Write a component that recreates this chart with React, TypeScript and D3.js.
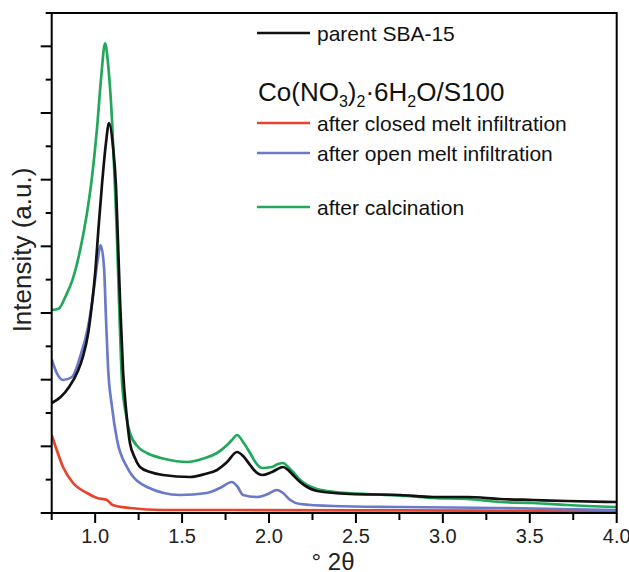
import React from "react";
import * as d3 from "d3";

// ---- data (x: ° 2θ, y: intensity in arbitrary units) ----
const calcinationX = [0.75, 0.79, 0.83, 0.87, 0.91, 0.95, 0.98, 1.01, 1.035, 1.057, 1.074, 1.097, 1.114, 1.126, 1.137, 1.155, 1.178, 1.2, 1.247, 1.298, 1.402, 1.528, 1.632, 1.701, 1.759, 1.787, 1.816, 1.851, 1.891, 1.925, 1.96, 2.017, 2.052, 2.081, 2.11, 2.138, 2.179, 2.219, 2.277, 2.38, 2.564, 2.794, 2.944, 3.139, 3.329, 3.519, 3.714, 3.996];
const calcinationY = [6.09, 6.13, 6.5, 7.0, 7.8, 8.9, 10.0, 11.5, 13.1, 14.09, 13.49, 11.78, 9.77, 8.18, 6.38, 3.9, 2.94, 2.4, 1.98, 1.8, 1.62, 1.53, 1.65, 1.8, 2.04, 2.19, 2.34, 2.13, 1.8, 1.5, 1.35, 1.38, 1.47, 1.5, 1.38, 1.23, 0.99, 0.84, 0.72, 0.63, 0.57, 0.51, 0.45, 0.42, 0.33, 0.3, 0.24, 0.18];

const parentX = [0.75, 0.8, 0.85, 0.9, 0.93, 0.96, 0.98, 1.0, 1.02, 1.04, 1.06, 1.08, 1.103, 1.12, 1.131, 1.143, 1.16, 1.178, 1.2, 1.229, 1.258, 1.316, 1.39, 1.546, 1.632, 1.701, 1.759, 1.816, 1.851, 1.891, 1.925, 1.96, 2.017, 2.081, 2.11, 2.138, 2.179, 2.219, 2.277, 2.466, 2.754, 2.944, 3.139, 3.329, 3.519, 3.714, 3.996];
const parentY = [3.3, 3.47, 3.78, 4.25, 4.7, 5.4, 6.2, 7.2, 8.6, 9.9, 11.0, 11.7, 10.97, 9.77, 8.18, 6.38, 4.29, 3.09, 2.1, 1.65, 1.38, 1.23, 1.14, 1.08, 1.17, 1.29, 1.53, 1.83, 1.71, 1.44, 1.23, 1.14, 1.23, 1.38, 1.29, 1.14, 0.93, 0.78, 0.66, 0.57, 0.54, 0.48, 0.48, 0.42, 0.39, 0.36, 0.33];

const openX = [0.75, 0.779, 0.815, 0.867, 0.913, 0.959, 0.99, 1.012, 1.032, 1.051, 1.062, 1.074, 1.097, 1.126, 1.183, 1.298, 1.488, 1.643, 1.718, 1.787, 1.816, 1.851, 1.931, 1.994, 2.046, 2.081, 2.122, 2.179, 2.37, 2.755, 3.329, 3.996];
const openY = [4.62, 4.2, 3.99, 4.08, 4.68, 5.58, 6.6, 7.5, 8.03, 7.37, 5.88, 4.38, 3.18, 2.19, 1.38, 0.78, 0.54, 0.6, 0.75, 0.93, 0.81, 0.54, 0.48, 0.57, 0.69, 0.6, 0.39, 0.27, 0.21, 0.18, 0.15, 0.09];

const closedX = [0.75, 0.779, 0.815, 0.873, 0.953, 1.011, 1.068, 1.1, 1.2, 1.39, 1.8, 2.5, 3.2, 4.0];
const closedY = [2.34, 1.89, 1.38, 0.9, 0.6, 0.45, 0.39, 0.24, 0.15, 0.09, 0.09, 0.08, 0.07, 0.05];

const xTickLabels = ["1.0", "1.5", "2.0", "2.5", "3.0", "3.5", "4.0"];
const xMinorTicks = [0.75, 1.25, 1.75, 2.25, 2.75, 3.25, 3.75];
const yTicks = d3.range(0, 16);

const seriesNames = ["parent SBA-15", "after closed melt infiltration", "after open melt infiltration", "after calcination"];
const seriesColors = ["#111111", "#e8432d", "#6b7ac8", "#22a85a"];

const W = 629, H = 572;
const left = 51.7, right = 616.7, top = 13, bottom = 513;

export default function App() {
  const x = d3.scaleLinear().domain([0.75, 4.0]).range([left, right]);
  const y = d3.scaleLinear().domain([0, 15]).range([bottom, top]);
  const line = d3.line<[number, number]>()
    .x((d) => x(d[0]))
    .y((d) => y(d[1]))
    .curve(d3.curveMonotoneX);
  const zip = (a: number[], b: number[]) => a.map((v, i) => [v, b[i]] as [number, number]);

  const series = [
    { data: zip(parentX, parentY), color: seriesColors[0] },
    { data: zip(closedX, closedY), color: seriesColors[1] },
    { data: zip(openX, openY), color: seriesColors[2] },
    { data: zip(calcinationX, calcinationY), color: seriesColors[3] },
  ];
  const order = [1, 2, 3, 0];

  const font = "'Liberation Sans', Arial, Helvetica, sans-serif";
  const legendLineX1 = 257, legendLineX2 = 310, legendTextX = 317;

  return (
    <svg width={W} height={H} style={{ position: "absolute", left: 0, top: 0, background: "#fff" }} fontFamily={font}>
      <defs>
        <clipPath id="plot">
          <rect x={left} y={top} width={right - left} height={bottom - top} />
        </clipPath>
      </defs>
      <rect x={0} y={0} width={W} height={H} fill="#fff" />
      <g clipPath="url(#plot)">
        {order.map((i) => (
          <path key={i} d={line(series[i].data) || ""} fill="none" stroke={series[i].color} strokeWidth={2.7} strokeLinejoin="round" />
        ))}
      </g>
      <rect x={left} y={top} width={right - left} height={bottom - top} fill="none" stroke="#000" strokeWidth={2} />
      {yTicks.map((t) => (
        <line key={"y" + t} x1={left - (t % 2 === 0 ? 11 : 6)} x2={left} y1={y(t)} y2={y(t)} stroke="#000" strokeWidth={2} />
      ))}
      {xTickLabels.map((l) => (
        <g key={"x" + l}>
          <line x1={x(+l)} x2={x(+l)} y1={bottom} y2={bottom + 10} stroke="#000" strokeWidth={2} />
          <text x={x(+l)} y={543} textAnchor="middle" fontSize={20} fill="#222">{l}</text>
        </g>
      ))}
      {xMinorTicks.map((t) => (
        <line key={"m" + t} x1={x(t)} x2={x(t)} y1={bottom} y2={bottom + 7} stroke="#000" strokeWidth={2} />
      ))}
      <text x={333} y={570} textAnchor="middle" fontSize={24} fill="#222">° 2θ</text>
      <text transform="translate(31,250) rotate(-90)" textAnchor="middle" fontSize={26} fill="#222">Intensity (a.u.)</text>
      <line x1={legendLineX1} x2={legendLineX2} y1={33} y2={33} stroke={seriesColors[0]} strokeWidth={2.6} />
      <text x={legendTextX} y={41} fontSize={21} fill="#111">{seriesNames[0]}</text>
      <text x={258} y={101} fontSize={26} fill="#111">
        Co(NO<tspan fontSize={16} dy={6}>3</tspan><tspan dy={-6}>)</tspan><tspan fontSize={16} dy={6}>2</tspan><tspan dy={-6}>·6H</tspan><tspan fontSize={16} dy={6}>2</tspan><tspan dy={-6}>O/S100</tspan>
      </text>
      <line x1={legendLineX1} x2={legendLineX2} y1={123} y2={123} stroke={seriesColors[1]} strokeWidth={2.6} />
      <text x={legendTextX} y={130.5} fontSize={21} fill="#111">{seriesNames[1]}</text>
      <line x1={legendLineX1} x2={legendLineX2} y1={153} y2={153} stroke={seriesColors[2]} strokeWidth={2.6} />
      <text x={legendTextX} y={160.5} fontSize={21} fill="#111">{seriesNames[2]}</text>
      <line x1={legendLineX1} x2={legendLineX2} y1={207} y2={207} stroke={seriesColors[3]} strokeWidth={2.6} />
      <text x={legendTextX} y={214.5} fontSize={21} fill="#111">{seriesNames[3]}</text>
    </svg>
  );
}
